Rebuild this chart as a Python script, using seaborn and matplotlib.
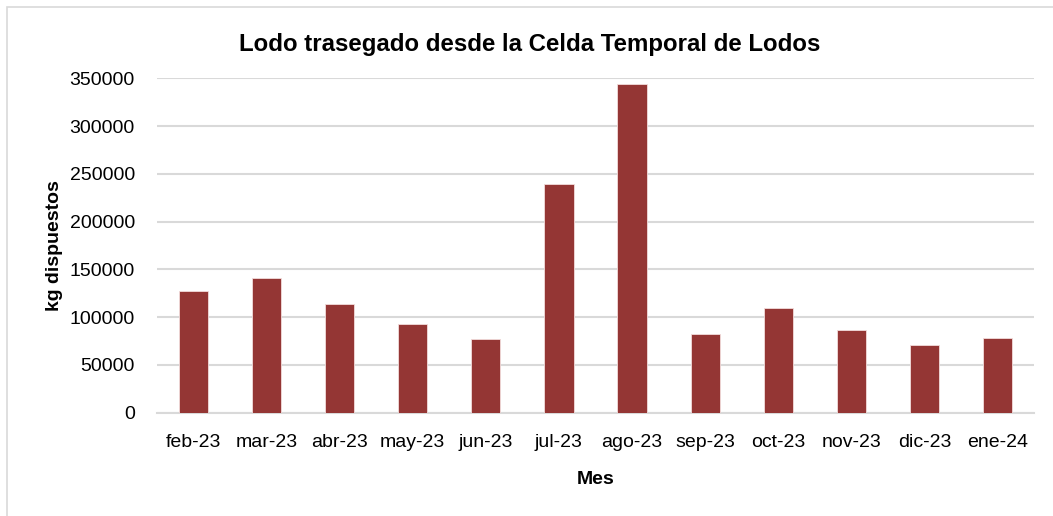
import matplotlib
matplotlib.use("Agg")
import matplotlib.pyplot as plt
import seaborn as sns
import pandas as pd
from matplotlib.patches import Rectangle

meses = ["feb-23", "mar-23", "abr-23", "may-23", "jun-23", "jul-23",
         "ago-23", "sep-23", "oct-23", "nov-23", "dic-23", "ene-24"]
kg_dispuestos = [127000, 141000, 114000, 93000, 77000, 239000,
                 344000, 82000, 110000, 87000, 71000, 78000]
y_ticks = [0, 50000, 100000, 150000, 200000, 250000, 300000, 350000]

titulo = "Lodo trasegado desde la Celda Temporal de Lodos"

sns.set_theme(style="white")
plt.rcParams['font.family'] = ['Liberation Sans', 'DejaVu Sans']
plt.rcParams['text.color'] = 'black'
plt.rcParams['axes.labelcolor'] = 'black'

df = pd.DataFrame({"Mes": meses, "kg": kg_dispuestos})

fig = plt.figure(figsize=(10.53, 5.16), dpi=100)
ax = fig.add_axes([157/1053, 1 - 412.7/516, (1034-157)/1053, (412.7-78.3)/516])

sns.barplot(data=df, x="Mes", y="kg", color="#943634", saturation=1,
            width=0.40, edgecolor="#f2dcdb", linewidth=0.6, ax=ax, zorder=3)

ax.set_ylim(0, 350000)
ax.set_xlim(-0.5, len(meses) - 0.5)
ax.set_yticks(y_ticks)
ax.set_yticklabels([str(v) for v in y_ticks])
ax.yaxis.grid(True, color="#d9d9d9", linewidth=1.5, zorder=0)
ax.set_axisbelow(True)
for s in ["top", "right", "left"]:
    ax.spines[s].set_visible(False)
ax.spines["bottom"].set_color("#d9d9d9")
ax.spines["bottom"].set_linewidth(1.5)
ax.tick_params(axis="both", length=0, labelsize=14, colors="black")
ax.tick_params(axis="x", pad=15)
ax.tick_params(axis="y", pad=16)

ax.set_xlabel("Mes", fontsize=14, fontweight="bold", labelpad=15, color="black")
ax.set_ylabel("kg dispuestos", fontsize=14, fontweight="bold", labelpad=5, color="black")
fig.text(530/1053, 1 - 45/516, titulo, ha="center", va="center",
         fontsize=17.3, fontweight="bold", color="black")

# chart area frame
fig.patches.append(Rectangle((7/1053, -0.1), 1.2, 1 - 7/516 + 0.1,
                             transform=fig.transFigure, fill=False,
                             edgecolor="#d9d9d9", linewidth=1.2))

fig.savefig("out.png", dpi=100)
